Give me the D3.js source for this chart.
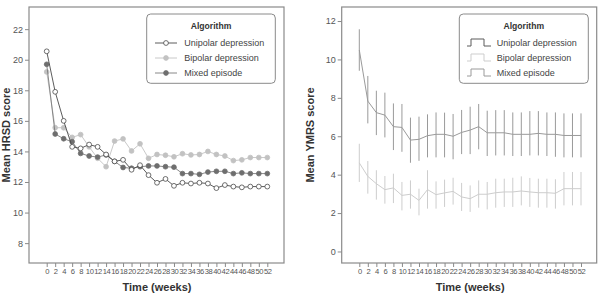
<!DOCTYPE html>
<html>
<head>
<meta charset="utf-8">
<script src="https://cdn.jsdelivr.net/npm/d3@7"></script>
<style>
  body { margin: 0; background: #fff; }
  svg { display: block; font-family: "Liberation Sans", Arial, sans-serif; }
</style>
</head>
<body>
<div id="chart"></div>
<script>
// weeks of follow-up
const weeks = [0,2,4,6,8,10,12,14,16,18,20,22,24,26,28,30,32,34,36,38,40,42,44,46,48,50,52];

// HRSD means (left panel)
const hrsdUnipolar = [20.55,17.9,16.0,14.3,14.2,14.45,14.3,13.8,13.35,13.45,12.8,13.1,12.45,11.95,12.2,11.75,11.95,11.9,11.95,11.9,11.6,11.8,11.7,11.65,11.7,11.7,11.7];
const hrsdBipolar  = [19.2,15.55,15.55,14.92,15.1,14.3,13.55,13.0,14.68,14.82,14.03,14.5,13.55,13.8,13.75,13.65,13.85,13.77,13.8,14.0,13.8,13.7,13.4,13.45,13.6,13.6,13.6];
const hrsdMixed    = [19.7,15.14,14.83,14.64,13.87,13.7,13.63,13.77,13.35,12.95,12.9,13.0,13.05,13.05,13.0,12.97,12.55,12.55,12.5,12.65,12.7,12.7,12.55,12.6,12.55,12.55,12.55];

// YMRS means with interval (right panel)
const ymrsMixed   = [10.49,7.83,7.23,7.1,6.5,6.46,5.8,5.84,6.03,6.1,6.1,6.0,6.2,6.32,6.5,6.18,6.18,6.18,6.1,6.1,6.1,6.15,6.1,6.1,6.04,6.04,6.04];
const ymrsMixedHi = [11.57,9.14,8.37,8.27,7.71,7.68,6.97,7.02,7.14,7.24,7.23,7.16,7.37,7.54,7.68,7.33,7.36,7.36,7.24,7.24,7.31,7.31,7.24,7.24,7.19,7.19,7.19];
const ymrsMixedLo = [9.41,6.67,6.06,5.94,5.28,5.19,4.62,4.72,4.9,4.9,4.9,4.8,5.07,5.07,5.32,4.97,5.0,5.0,4.97,4.97,5.0,5.0,4.97,4.93,4.9,4.9,4.9];
const ymrsBipolar   = [4.61,3.91,3.53,3.22,3.31,2.92,2.98,2.66,3.22,2.96,3.05,3.13,2.84,2.75,2.98,2.98,3.06,3.1,3.1,3.15,3.1,3.06,3.06,3.03,3.27,3.27,3.27];
const ymrsBipolarHi = [5.61,4.71,4.23,3.93,4.05,3.62,3.7,3.27,4.23,3.65,3.74,3.84,3.57,3.44,3.7,3.62,3.79,3.79,3.84,3.91,3.83,3.79,3.79,3.76,4.14,4.14,4.14];
const ymrsBipolarLo = [3.62,3.01,2.7,2.49,2.52,2.14,2.23,1.88,2.23,2.23,2.32,2.44,2.11,2.06,2.28,2.19,2.28,2.32,2.32,2.4,2.32,2.28,2.28,2.23,2.4,2.4,2.4];

const legendNames = ['Unipolar depression', 'Bipolar depression', 'Mixed episode'];
const hrsdTicks = [8,10,12,14,16,18,20,22];
const ymrsTicks = [0,2,4,6,8,10,12];

const W = 601, H = 295;
const svg = d3.select('#chart').append('svg').attr('width', W).attr('height', H);

const col = { uni: '#4a4a4a', bip: '#c2c2c2', mix: '#6e6e6e', mixR: '#9a9a9a', bipR: '#cdcdcd' };

function panel(o) {
  const g = svg.append('g');
  const x = d3.scaleLinear().domain([0, 52]).range(o.xr);
  const y = d3.scaleLinear().domain(o.yd).range([o.bot, o.top]);

  g.append('rect')
    .attr('x', o.fx0).attr('y', o.top).attr('width', o.fx1 - o.fx0).attr('height', o.bot - o.top)
    .attr('fill', 'none').attr('stroke', '#8a8a8a').attr('stroke-width', 1.2);

  const yAx = g.append('g').attr('transform', `translate(${o.fx0},0)`)
    .call(d3.axisLeft(y).tickValues(o.yt).tickSize(4).tickPadding(2));
  yAx.select('.domain').remove();
  yAx.selectAll('line').attr('stroke', '#8a8a8a');
  yAx.selectAll('text').attr('fill', '#555').style('font-size', '9px');

  const xAx = g.append('g').attr('transform', `translate(0,${o.bot})`)
    .call(d3.axisBottom(x).tickValues(weeks).tickSize(4).tickPadding(2));
  xAx.select('.domain').remove();
  xAx.selectAll('line').attr('stroke', '#8a8a8a');
  xAx.selectAll('text').attr('fill', '#555').style('font-size', '7.6px').style('letter-spacing', '-0.45px');

  g.append('text').attr('x', (o.xr[0] + o.xr[1]) / 2).attr('y', 291)
    .attr('text-anchor', 'middle').attr('fill', '#333')
    .style('font-size', '11px').style('font-weight', 'bold').text('Time (weeks)');

  g.append('text').attr('transform', `translate(${o.ytx},${(o.top + o.bot) / 2}) rotate(-90)`)
    .attr('text-anchor', 'middle').attr('fill', '#333')
    .style('font-size', '11px').style('font-weight', 'bold').text(o.ytitle);

  return { g, x, y };
}

// ---- left: HRSD
const L = panel({ xr: [46.7, 267.3], fx0: 29, fx1: 284, top: 7, bot: 263, yd: [6.7, 23.45], yt: hrsdTicks, ytx: 10, ytitle: 'Mean HRSD score' });

const hrsd = [
  { vals: hrsdBipolar, line: col.bip, fill: col.bip, stroke: col.bip },
  { vals: hrsdMixed, line: '#7a7a7a', fill: col.mix, stroke: col.mix },
  { vals: hrsdUnipolar, line: col.uni, fill: '#fff', stroke: col.uni }
];
const lineL = d3.line().x((d, i) => L.x(weeks[i])).y(d => L.y(d));
hrsd.forEach(s => {
  L.g.append('path').attr('d', lineL(s.vals)).attr('fill', 'none').attr('stroke', s.line).attr('stroke-width', 0.9);
  L.g.selectAll(null).data(s.vals).join('circle')
    .attr('cx', (d, i) => L.x(weeks[i])).attr('cy', d => L.y(d)).attr('r', 2.4)
    .attr('fill', s.fill).attr('stroke', s.stroke).attr('stroke-width', 0.8);
});

function legendBox(g, x0, x1, y0, y1, draw) {
  g.append('rect').attr('x', x0).attr('y', y0).attr('width', x1 - x0).attr('height', y1 - y0)
    .attr('rx', 4).attr('fill', '#fff').attr('stroke', '#8a8a8a').attr('stroke-width', 1);
  g.append('text').attr('x', (x0 + x1) / 2).attr('y', 29).attr('text-anchor', 'middle')
    .attr('fill', '#333').style('font-size', '8.6px').style('font-weight', 'bold').text('Algorithm');
  legendNames.forEach((n, i) => {
    const yy = 43 + i * 15;
    draw(i, yy);
    g.append('text').attr('x', x0 + 37.5).attr('y', yy + 3.2).attr('fill', '#444')
      .style('font-size', '9px').text(n);
  });
}

const legL = [hrsd[2], hrsd[0], hrsd[1]];
legendBox(L.g, 146.7, 275.3, 14, 83.3, (i, yy) => {
  const s = legL[i];
  L.g.append('line').attr('x1', 155).attr('x2', 177).attr('y1', yy).attr('y2', yy).attr('stroke', s.line).attr('stroke-width', 0.9);
  L.g.append('circle').attr('cx', 166).attr('cy', yy).attr('r', 2.4).attr('fill', s.fill).attr('stroke', s.stroke).attr('stroke-width', 0.8);
});

// ---- right: YMRS
const R = panel({ xr: [359.3, 581], fx0: 341.7, fx1: 596.7, top: 7, bot: 263, yd: [-0.6, 12.73], yt: ymrsTicks, ytx: 314, ytitle: 'Mean YMRS score' });

const ymrs = [
  { m: ymrsBipolar, lo: ymrsBipolarLo, hi: ymrsBipolarHi, c: col.bipR },
  { m: ymrsMixed, lo: ymrsMixedLo, hi: ymrsMixedHi, c: col.mixR }
];
const lineR = d3.line().x((d, i) => R.x(weeks[i])).y(d => R.y(d));
ymrs.forEach(s => {
  R.g.selectAll(null).data(weeks).join('line')
    .attr('x1', d => R.x(d)).attr('x2', d => R.x(d))
    .attr('y1', (d, i) => R.y(s.lo[i])).attr('y2', (d, i) => R.y(s.hi[i]))
    .attr('stroke', s.c).attr('stroke-width', 1);
  R.g.append('path').attr('d', lineR(s.m)).attr('fill', 'none').attr('stroke', s.c).attr('stroke-width', 1);
});

const legR = ['#5a5a5a', col.bipR, col.mixR];
legendBox(R.g, 459.3, 588.3, 14, 83.3, (i, yy) => {
  const x0 = 467;
  R.g.append('path')
    .attr('d', `M${x0},${yy + 3}H${x0 + 4}V${yy - 4}H${x0 + 17}V${yy + 3}H${x0 + 24}`)
    .attr('fill', 'none').attr('stroke', legR[i]).attr('stroke-width', 1);
});
</script>
</body>
</html>
